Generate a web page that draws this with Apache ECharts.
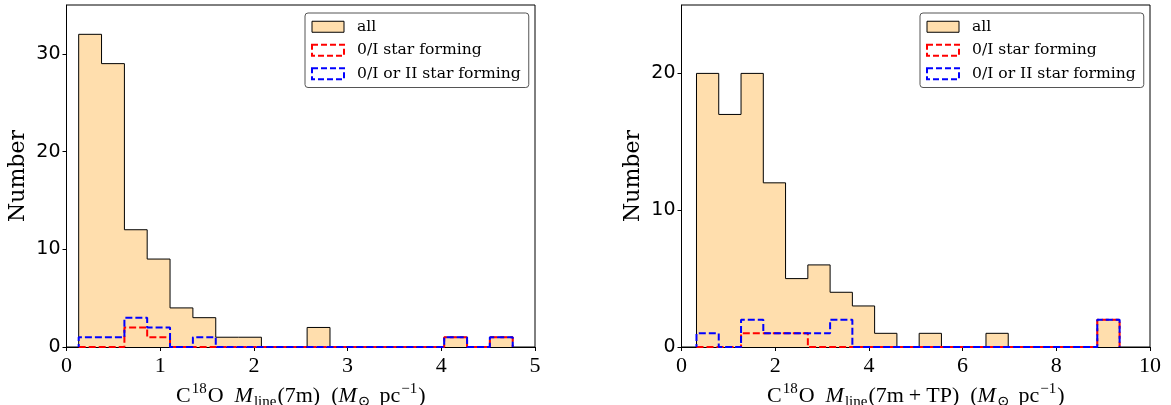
<!DOCTYPE html>
<html>
<head>
<meta charset="utf-8">
<script src="https://cdn.jsdelivr.net/npm/echarts@6/dist/echarts.min.js"></script>
<style>
html,body{margin:0;padding:0;background:#fff;}
#c{width:1171px;height:405px;}
</style>
</head>
<body>
<div id="c"></div>
<script>
// ---- data ----
const leftEdges = [0.130, 0.374, 0.618, 0.861, 1.105, 1.349, 1.593, 1.837, 2.080, 2.324, 2.568, 2.812, 3.056, 3.299, 3.543, 3.787, 4.031, 4.275, 4.518, 4.762];
const leftAll  = [32, 29, 12, 9, 4, 3, 1, 1, 0, 0, 2, 0, 0, 0, 0, 0, 1, 0, 1];
const leftRed  = [0, 0, 2, 1, 0, 0, 0, 0, 0, 0, 0, 0, 0, 0, 0, 0, 1, 0, 1];
const leftBlue = [1, 1, 3, 2, 0, 1, 0, 0, 0, 0, 0, 0, 0, 0, 0, 0, 1, 0, 1];

const rightEdges = [0.320, 0.795, 1.271, 1.746, 2.221, 2.697, 3.172, 3.647, 4.122, 4.598, 5.073, 5.548, 6.024, 6.499, 6.974, 7.450, 7.925, 8.400, 8.875, 9.351];
const rightAll  = [20, 17, 20, 12, 5, 6, 4, 3, 1, 0, 1, 0, 0, 1, 0, 0, 0, 0, 2];
const rightRed  = [0, 0, 1, 1, 1, 0, 0, 0, 0, 0, 0, 0, 0, 0, 0, 0, 0, 0, 2];
const rightBlue = [1, 0, 2, 1, 1, 1, 2, 0, 0, 0, 0, 0, 0, 0, 0, 0, 0, 0, 2];

const leftXTicks = [0, 1, 2, 3, 4, 5];
const rightXTicks = [0, 2, 4, 6, 8, 10];
const leftYTicks = [0, 10, 20, 30];
const rightYTicks = [0, 10, 20];

const seriesNames = ['all', '0/I star forming', '0/I or II star forming'];

// ---- helpers ----
function stepPoints(edges, counts) {
  const pts = [[edges[0], 0]];
  for (let i = 0; i < counts.length; i++) pts.push([edges[i], counts[i]]);
  pts.push([edges[edges.length - 1], 0]);
  return pts;
}

const FILL = '#FFDEAD';
const serifMath = 'Liberation Serif, DejaVu Serif, serif';

function xName(inner) {
  return '{r|C}{sup|18}{r|O}{sp| }{i|M}{sub|line}{r|(}' + inner + '{r|)}{sp| }{r|(}{i|M}{sub|⊙}{sp2| }{r|pc}{sup|−1}{r|)}';
}
const LH = 28;
const xNameRich = {
  r: {fontFamily: serifMath, fontSize: 22, color: '#000', lineHeight: LH, verticalAlign: 'middle'},
  i: {fontFamily: serifMath, fontStyle: 'italic', fontSize: 22, color: '#000', lineHeight: LH, verticalAlign: 'middle', padding: [0, 1, 0, 0]},
  sup: {fontFamily: serifMath, fontSize: 15, color: '#000', lineHeight: 16, verticalAlign: 'top', padding: [0, 1, 0, 1]},
  sub: {fontFamily: serifMath, fontSize: 15, color: '#000', lineHeight: 14, verticalAlign: 'bottom', padding: [0, 1, 0, 0]},
  sp: {fontSize: 22, lineHeight: LH, width: 11},
  sp2: {fontSize: 22, lineHeight: LH, width: 8},
  op: {fontFamily: serifMath, fontSize: 22, color: '#000', lineHeight: LH, verticalAlign: 'middle', padding: [0, 5, 0, 5]}
};
const leftInner = '{r|7m}';
const rightInner = '{r|7m}{op|+}{r|TP}';

function xAxis(gridIndex, max, interval, ticks, inner) {
  return {
    type: 'value', gridIndex: gridIndex, min: 0, max: max, interval: interval,
    name: xName(inner), nameLocation: 'middle', nameGap: 30,
    nameTextStyle: {rich: xNameRich},
    axisLine: {show: true, lineStyle: {color: '#000', width: 1}},
    axisTick: {show: true, length: 4, lineStyle: {color: '#000', width: 1}, customValues: ticks},
    axisLabel: {show: true, margin: 8, fontFamily: serifMath, fontSize: 22, color: '#000', customValues: ticks},
    splitLine: {show: false}
  };
}
function yAxis(gridIndex, max, ticks) {
  return {
    type: 'value', gridIndex: gridIndex, min: 0, max: max, interval: 10,
    name: 'Number', nameLocation: 'middle', nameGap: 37,
    nameTextStyle: {fontFamily: 'DejaVu Serif', fontSize: 22, color: '#000'},
    axisLine: {show: true, lineStyle: {color: '#000', width: 1}},
    axisTick: {show: true, length: 4, lineStyle: {color: '#000', width: 1}, customValues: ticks},
    axisLabel: {show: true, margin: 6, fontFamily: 'DejaVu Sans', fontSize: 19, color: '#000', customValues: ticks},
    splitLine: {show: false}
  };
}
function histSeries(idx, edges, all, red, blue) {
  return [
    {
      name: seriesNames[0], type: 'line', xAxisIndex: idx, yAxisIndex: idx, step: 'end',
      data: stepPoints(edges, all), symbol: 'none', silent: true,
      lineStyle: {color: '#000', width: 1}, itemStyle: {color: FILL},
      areaStyle: {color: FILL, opacity: 1, origin: 'start'}, z: 2
    },
    {
      name: seriesNames[1], type: 'line', xAxisIndex: idx, yAxisIndex: idx, step: 'end',
      data: stepPoints(edges, red), symbol: 'none', silent: true,
      lineStyle: {color: '#ff0000', width: 2, type: [7, 3]}, itemStyle: {color: '#ff0000'}, z: 3
    },
    {
      name: seriesNames[2], type: 'line', xAxisIndex: idx, yAxisIndex: idx, step: 'end',
      data: stepPoints(edges, blue), symbol: 'none', silent: true,
      lineStyle: {color: '#0000ff', width: 2, type: [7, 3], dashOffset: 4}, itemStyle: {color: '#0000ff'}, z: 4
    }
  ];
}
function legend(left) {
  return {
    left: left, top: 13, orient: 'vertical', selectedMode: false,
    padding: [5, 8, 5, 6], itemGap: 6, itemWidth: 32, itemHeight: 11,
    borderColor: '#555', borderWidth: 1, borderRadius: 3,
    backgroundColor: 'rgba(255,255,255,0.8)',
    textStyle: {fontFamily: 'DejaVu Serif', fontSize: 15.6, color: '#000', lineHeight: 17.5, padding: [0, 0, 0, 8]},
    data: [
      {name: seriesNames[0], icon: 'rect', itemStyle: {color: FILL, borderColor: '#000', borderWidth: 1}},
      {name: seriesNames[1], icon: 'rect', itemStyle: {color: 'rgba(0,0,0,0)', borderColor: '#ff0000', borderWidth: 2, borderType: [6, 3]}},
      {name: seriesNames[2], icon: 'rect', itemStyle: {color: 'rgba(0,0,0,0)', borderColor: '#0000ff', borderWidth: 2, borderType: [6, 3]}}
    ]
  };
}

const chart = echarts.init(document.getElementById('c'), null, {renderer: 'canvas'});
chart.setOption({
  animation: false,
  backgroundColor: '#fff',
  grid: [
    {left: 66.5, top: 5, width: 468.5, height: 342, show: true, borderColor: '#000', borderWidth: 1, backgroundColor: 'transparent', outerBoundsMode: 'none', containLabel: false},
    {left: 681.5, top: 5, width: 468.5, height: 342, show: true, borderColor: '#000', borderWidth: 1, backgroundColor: 'transparent', outerBoundsMode: 'none', containLabel: false}
  ],
  legend: [legend(305), legend(920)],
  xAxis: [
    xAxis(0, 5, 1, leftXTicks, leftInner),
    xAxis(1, 10, 2, rightXTicks, rightInner)
  ],
  yAxis: [
    yAxis(0, 35, leftYTicks),
    yAxis(1, 25, rightYTicks)
  ],
  series: [].concat(
    histSeries(0, leftEdges, leftAll, leftRed, leftBlue),
    histSeries(1, rightEdges, rightAll, rightRed, rightBlue)
  )
});
</script>
</body>
</html>
